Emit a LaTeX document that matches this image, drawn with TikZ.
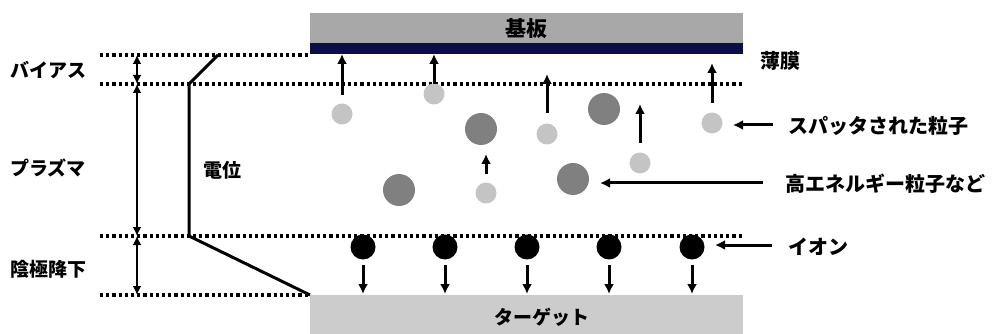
\documentclass[tikz,border=0pt]{standalone}
\usepackage{fontspec}
\setmainfont{Noto Sans CJK JP}[BoldFont={Noto Sans CJK JP Black}]
\usetikzlibrary{arrows.meta}
\definecolor{subgray}{RGB}{168,168,168}
\definecolor{targray}{RGB}{204,204,204}
\definecolor{navyfilm}{RGB}{12,14,72}
\definecolor{lightp}{RGB}{196,196,196}
\definecolor{darkp}{RGB}{128,128,128}
\begin{document}
\begin{tikzpicture}[x=1pt,y=-1pt,
  font=\fontsize{19}{21}\selectfont\bfseries,
  dotline/.style={line width=3.4pt, dash pattern=on 3.2pt off 3pt},
  arr/.style={line width=3pt, -{Latex[length=10pt,width=10pt]}},
  darr/.style={line width=2.8pt, {Latex[length=9pt,width=9pt]}-{Latex[length=9pt,width=9pt]}},
  lightp/.style={circle, fill=lightp, minimum size=21pt, inner sep=0pt},
  darkp/.style={circle, fill=darkp, minimum size=32pt, inner sep=0pt},
  ion/.style={circle, fill=black, minimum size=25pt, inner sep=0pt},
  lbl/.style={anchor=west, inner sep=0pt},
  rlbl/.style={anchor=west, inner sep=0pt, font=\fontsize{20}{22}\selectfont\bfseries}]
\useasboundingbox (0,0) rectangle (994,334);

% substrate, film, target
\node[fill=subgray, minimum width=433pt, minimum height=30pt, inner sep=0pt, anchor=north west, font=\fontsize{21}{22}\selectfont\bfseries] (sub) at (310,13) {基板};
\node[fill=navyfilm, minimum width=433pt, minimum height=11pt, inner sep=0pt, anchor=north west] (film) at (310,43) {};
\node[fill=targray, minimum width=433pt, minimum height=46pt, inner sep=0pt, anchor=north west] (tgt) at (310,295) {};
\node[inner sep=0pt] (tgtl) at (542,317) {ターゲット};

% dotted lines
\coordinate (a1) at (100,55); \coordinate (b1) at (310,55);
\coordinate (a2) at (100,84); \coordinate (b2) at (743,84);
\coordinate (a3) at (100,236); \coordinate (b3) at (743,236);
\coordinate (a4) at (100,295); \coordinate (b4) at (310,295);
\draw[dotline] (a1) -- (b1);
\draw[dotline] (a2) -- (b2);
\draw[dotline] (a3) -- (b3);
\draw[dotline] (a4) -- (b4);

% region arrows
\coordinate (v1) at (137,55); \coordinate (v2) at (137,84);
\coordinate (v3) at (137,236); \coordinate (v4) at (137,295);
\draw[darr] (v1) -- (v2);
\draw[darr] (v2) -- (v3);
\draw[darr] (v3) -- (v4);

% potential curve
\coordinate (p1) at (218,55); \coordinate (p2) at (189,84);
\coordinate (p3) at (189,236); \coordinate (p4) at (310,295);
\draw[line width=3pt, line join=miter] (p1) -- (p2) -- (p3) -- (p4);

% left labels
\node[lbl] (bias) at (10,70) {バイアス};
\node[lbl] (plasma) at (10,168) {プラズマ};
\node[lbl] (cath) at (10,269) {陰極降下};
\node[lbl] (pot) at (203,170) {電位};

% particles
\node[lightp] (s1) at (342,114) {};
\node[lightp] (s2) at (434,94) {};
\node[lightp] (s3) at (547,134) {};
\node[lightp] (s4) at (712,123) {};
\node[lightp] (s5) at (640,163) {};
\node[lightp] (s6) at (486,193) {};
\node[darkp] (d1) at (481,129) {};
\node[darkp] (d2) at (604,109) {};
\node[darkp] (d3) at (399,190) {};
\node[darkp] (d4) at (573,179) {};

% upward arrows
\coordinate (u1a) at (342,95); \coordinate (u1b) at (342,54);
\coordinate (u2a) at (434,84); \coordinate (u2b) at (434,54);
\coordinate (u3a) at (547,113); \coordinate (u3b) at (547,74);
\coordinate (u4a) at (640,143); \coordinate (u4b) at (640,104);
\coordinate (u5a) at (712,103); \coordinate (u5b) at (712,63);
\coordinate (u6a) at (486,174); \coordinate (u6b) at (486,154);
\draw[arr] (u1a) -- (u1b);
\draw[arr] (u2a) -- (u2b);
\draw[arr] (u3a) -- (u3b);
\draw[arr] (u4a) -- (u4b);
\draw[arr] (u5a) -- (u5b);
\draw[arr] (u6a) -- (u6b);

% ions and down arrows
\foreach \i/\x in {1/363,2/445,3/527,4/609,5/692}{
  \node[ion] (ion\i) at (\x,247) {};
  \draw[arr] (\x,265) -- (\x,294);
}

% right labels
\node[rlbl] (filmlbl) at (760,61) {薄膜};
\node[rlbl] (spt) at (788,126) {スパッタされた粒子};
\node[rlbl] (hep) at (785,184) {高エネルギー粒子など};
\node[rlbl] (ionl) at (788,247) {イオン};
\coordinate (sa) at (773,125); \coordinate (sb) at (733,125);
\coordinate (ha) at (763,183); \coordinate (hb) at (600,183);
\coordinate (ia) at (772,245); \coordinate (ib) at (715,245);
\draw[arr] (sa) -- (sb);
\draw[arr] (ha) -- (hb);
\draw[arr] (ia) -- (ib);
\end{tikzpicture}
\end{document}
